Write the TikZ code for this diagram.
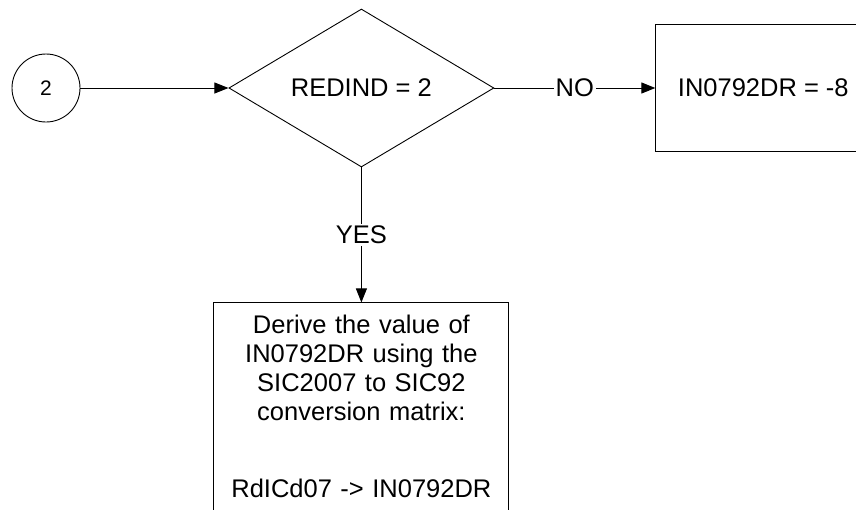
\documentclass[tikz,border=0pt]{standalone}
\usepackage{fontspec}
\setmainfont{Liberation Sans}
\usetikzlibrary{positioning}
\usetikzlibrary{shapes.geometric,arrows.meta}
\tikzstyle{decision} = [diamond, draw, aspect=1.68, minimum width=265pt, minimum height=158pt, inner sep=0pt]
\tikzstyle{block} = [rectangle, draw, align=center]
\tikzstyle{connector} = [circle, draw, minimum size=68pt, inner sep=0pt]
\tikzstyle{line} = [draw, -{Triangle[length=14pt,width=11pt]}]
\tikzstyle{lbl} = [fill=white, inner sep=2pt]

\begin{document}
\begin{tikzpicture}[line width=0.9pt, font=\fontsize{25.5}{29}\selectfont]
  \clip (0,0) rectangle (856pt,-509pt);
  \node [connector] (c2) at (46pt,-88pt) {\fontsize{21}{24}\selectfont 2};
  \node [decision, right=148pt of c2] (dec) {REDIND = 2};
  \node [block, right=161pt of dec, minimum width=215pt, minimum height=127pt] (neg) {IN0792DR = -8};
  % box runs on below the page edge
  \node [block, below=135pt of dec, text width=270pt, minimum width=295pt, inner ysep=12pt] (derive) {Derive the value of\\ IN0792DR using the\\ SIC2007 to SIC92\\ conversion matrix:\\[48pt] RdICd07 -> IN0792DR\rule[-30pt]{0pt}{30pt}};
  \path [line] (c2) -- (dec);
  \path [line] (dec) -- node [lbl] {NO} (neg);
  \path [line] (dec) -- node [lbl] {YES} (derive);
\end{tikzpicture}
\end{document}
